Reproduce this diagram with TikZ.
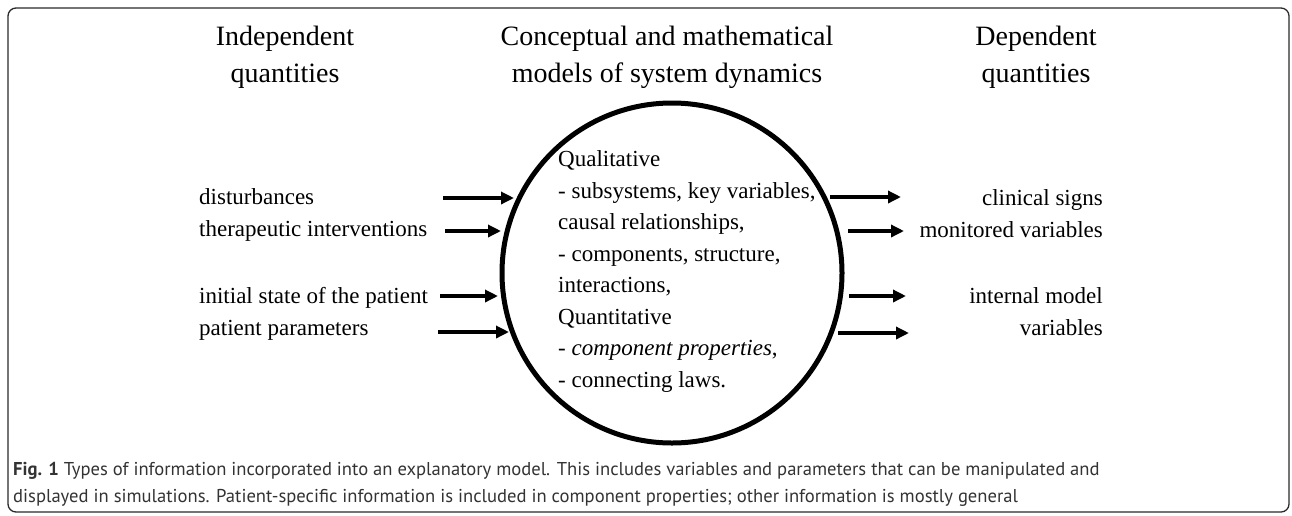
\documentclass[tikz,border=0pt]{standalone}
\usepackage{fontspec}
\setmainfont{Liberation Serif}
\newfontfamily\capfont{PT Sans}
\usetikzlibrary{arrows.meta}
\definecolor{captext}{HTML}{333333}
\definecolor{framecol}{HTML}{2A2A2A}
\tikzset{
  titlebox/.style={anchor=base, align=center, inner sep=0pt, font=\fontsize{28}{37}\selectfont},
  lefttext/.style={anchor=base west, inner sep=0pt, font=\fontsize{23}{28}\selectfont},
  righttext/.style={anchor=base east, inner sep=0pt, font=\fontsize{23}{28}\selectfont},
  modeltext/.style={anchor=base west, align=left, inner sep=0pt, font=\fontsize{23}{31.5}\selectfont},
  flowarrow/.style={line width=3.5pt, -{Triangle[length=13pt,width=12pt]}},
  captiontext/.style={anchor=base west, align=left, inner sep=0pt, text=captext, font=\capfont\fontsize{18.6}{26.5}\selectfont}
}
\begin{document}
\begin{tikzpicture}[x=1pt,y=-1pt]
\useasboundingbox (0,0) rectangle (1292,515);
\draw[rounded corners=8pt, line width=1.3pt, framecol] (8,8) rectangle (1289,512);

% titles (base anchor = baseline of the last line)
\node[titlebox] (tin) at (285,82) {Independent\\quantities};
\node[titlebox] (tmid) at (667,82) {Conceptual and mathematical\\models of system dynamics};
\node[titlebox] (tdep) at (1036,82) {Dependent\\quantities};

% model circle
\node[draw, circle, line width=5pt, minimum size=340pt, inner sep=0pt] (model) at (672,273) {};
\node[modeltext] (mtext) at (558,387) {Qualitative\\- subsystems, key variables,\\causal relationships,\\- components, structure,\\interactions,\\Quantitative\\- \textit{component properties},\\- connecting laws.};

% left texts
\node[lefttext] (dist) at (199,204) {disturbances};
\node[lefttext] (ther) at (199,236) {therapeutic interventions};
\node[lefttext] (init) at (199,303) {initial state of the patient};
\node[lefttext] (ppar) at (199,335) {patient parameters};

% right texts
\node[righttext] (clin) at (1103,205) {clinical signs};
\node[righttext] (moni) at (1103,237) {monitored variables};
\node[righttext] (intm) at (1103,303) {internal model};
\node[righttext] (vars) at (1103,335) {variables};

% arrow end points
\coordinate (l1s) at (443,198); \coordinate (l1e) at (514,198);
\coordinate (l2s) at (445,231); \coordinate (l2e) at (501,231);
\coordinate (l3s) at (440,296); \coordinate (l3e) at (498,296);
\coordinate (l4s) at (438,332); \coordinate (l4e) at (509,332);
\coordinate (r1s) at (830,197); \coordinate (r1e) at (901,197);
\coordinate (r2s) at (848,231); \coordinate (r2e) at (904,231);
\coordinate (r3s) at (849,296); \coordinate (r3e) at (906,296);
\coordinate (r4s) at (838,333); \coordinate (r4e) at (909,333);

\draw[flowarrow] (l1s) -- (l1e);
\draw[flowarrow] (l2s) -- (l2e);
\draw[flowarrow] (l3s) -- (l3e);
\draw[flowarrow] (l4s) -- (l4e);
\draw[flowarrow] (r1s) -- (r1e);
\draw[flowarrow] (r2s) -- (r2e);
\draw[flowarrow] (r3s) -- (r3e);
\draw[flowarrow] (r4s) -- (r4e);

% caption (base anchor = baseline of the last line)
\node[captiontext] (cap) at (13,502) {\textbf{Fig. 1} Types of information incorporated into an explanatory model. This includes variables and parameters that can be manipulated and\\displayed in simulations. Patient-specific information is included in component properties; other information is mostly general};
\end{tikzpicture}
\end{document}
